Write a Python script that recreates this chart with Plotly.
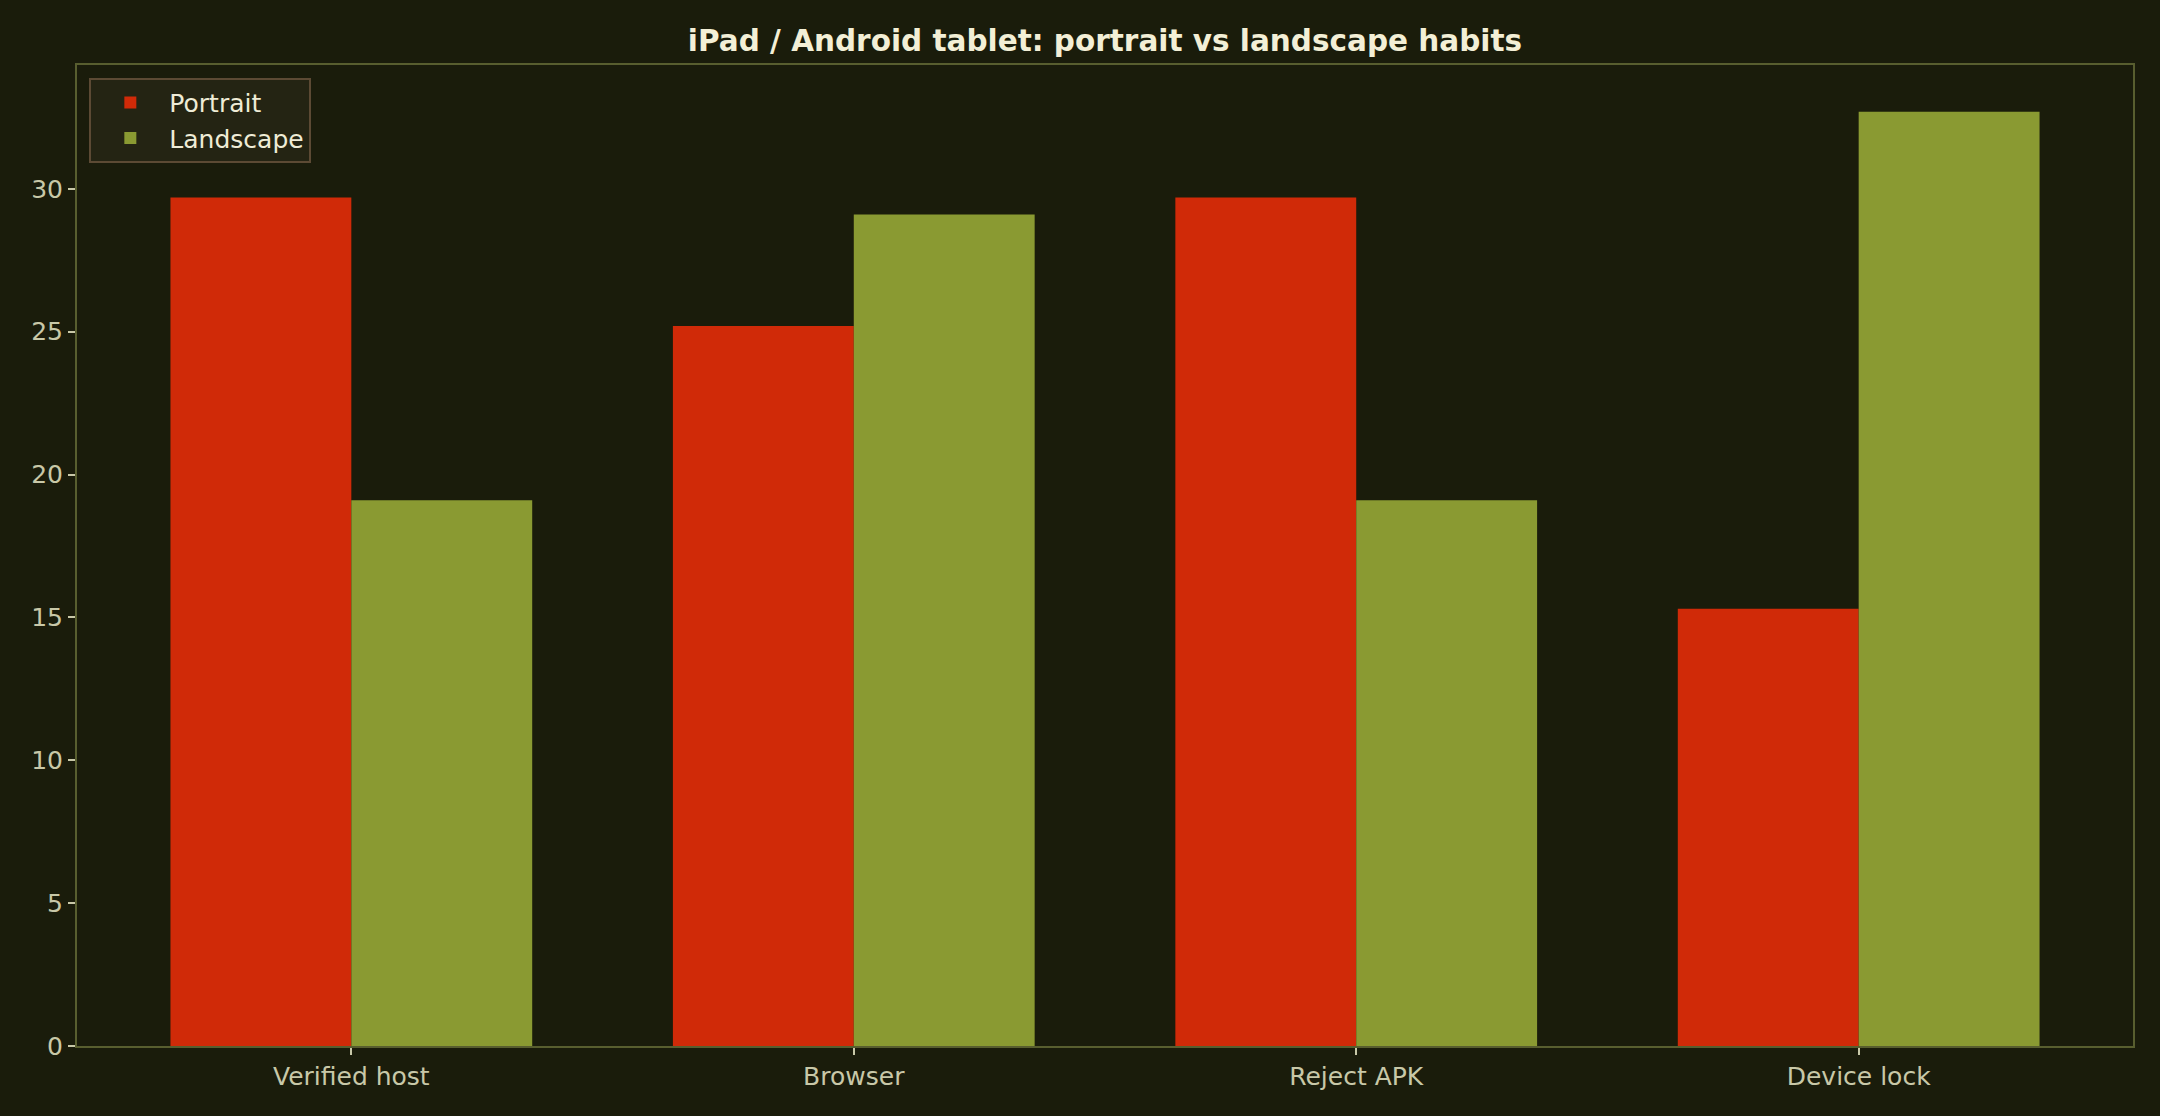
import plotly.graph_objects as go

# Share of sessions per habit, by tablet orientation
categories = ["Verified host", "Browser", "Reject APK", "Device lock"]
portrait = [29.7, 25.2, 29.7, 15.3]
landscape = [19.1, 29.1, 19.1, 32.7]
y_ticks = [0, 5, 10, 15, 20, 25, 30]

BG = "#1a1c0b"
RED = "#d02a08"
OLIVE = "#8a9a32"
TICK_TXT = "#c8c8a8"
SPINE = "#585e2f"
FONT = "DejaVu Sans"

bar_w = 0.36

fig = go.Figure()
fig.add_trace(go.Bar(x=categories, y=portrait, name="Portrait",
                     marker=dict(color=RED, line=dict(width=0)),
                     width=bar_w, offset=-bar_w))
fig.add_trace(go.Bar(x=categories, y=landscape, name="Landscape",
                     marker=dict(color=OLIVE, line=dict(width=0)),
                     width=bar_w, offset=0))

ymax = max(portrait + landscape) * 1.05
pad = (len(categories) - 1 + 2 * bar_w) * 0.05

fig.update_layout(
    width=2160, height=1116,
    paper_bgcolor=BG, plot_bgcolor=BG,
    barmode="overlay",
    margin=dict(l=77, r=27, t=65, b=70),
    font=dict(family=FONT, size=25, color=TICK_TXT),
    title=dict(text="<b>iPad / Android tablet: portrait vs landscape habits</b>",
               x=0.5, xref="paper", xanchor="center",
               y=1 - 41 / 1116, yanchor="middle", yref="container",
               font=dict(family=FONT, size=29.5, color="#f3efd6")),
    legend=dict(x=0.006, y=0.987, xanchor="left", yanchor="top",
                bgcolor="#242413", bordercolor="#5c4a34", borderwidth=2,
                itemwidth=68,
                font=dict(family=FONT, size=25, color="#efecd6")),
    showlegend=True,
)
fig.update_xaxes(range=[-bar_w - pad, len(categories) - 1 + bar_w + pad],
                 showgrid=False, zeroline=False,
                 showline=True, linecolor=SPINE, linewidth=2, mirror=True,
                 ticks="outside", ticklen=7, tickwidth=2, tickcolor=TICK_TXT,
                 tickfont=dict(family=FONT, size=25, color=TICK_TXT))
fig.update_yaxes(range=[0, ymax], tickvals=y_ticks,
                 showgrid=False, zeroline=False,
                 showline=True, linecolor=SPINE, linewidth=2, mirror=True,
                 ticks="outside", ticklen=7, tickwidth=2, tickcolor=TICK_TXT,
                 tickfont=dict(family=FONT, size=25, color=TICK_TXT))

# drop the browser's default body margin so the figure fills the window
fig.write_html("out.html", config={"displayModeBar": False},
               post_script="document.body.style.margin='0';document.body.style.background='%s';" % BG)
